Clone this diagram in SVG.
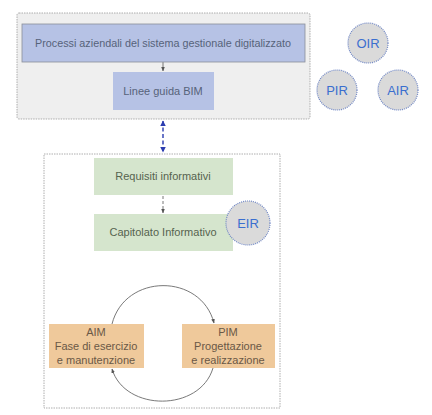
<svg xmlns="http://www.w3.org/2000/svg" width="432" height="415" viewBox="0 0 432 415">
<style>
text{font-family:"Liberation Sans","DejaVu Sans",sans-serif;font-size:11px;text-anchor:middle}
.cont{stroke:#9a9a9a;stroke-width:0.8;stroke-dasharray:1.5 1}
.blue{fill:#b6c2e5}
.green{fill:#d5e5cd}
.tan{fill:#efc99b}
.tb{fill:#56637a}
.tg{fill:#56634f}
.tt{fill:#6a5846}
.circ{fill:#dadada;stroke:#6f86c4;stroke-width:1.2;stroke-dasharray:1 1}
.ct{fill:#3b6fcf;font-size:13px}
.conn{fill:none;stroke:#6a6a6a;stroke-width:0.9}
</style>
<defs>
<marker id="ag" viewBox="0 0 10 10" refX="9" refY="5" markerWidth="5" markerHeight="5" orient="auto-start-reverse"><path d="M0,1 L10,5 L0,9 z" fill="#555"/></marker>
<marker id="ab" viewBox="0 0 10 10" refX="9" refY="5" markerWidth="4" markerHeight="4" orient="auto-start-reverse"><path d="M0,0 L10,5 L0,10 z" fill="#2b3cb0"/></marker>
</defs>
<rect width="432" height="415" fill="#fff"/>
<g id="top-container"><rect class="cont" x="17" y="13" width="293" height="106" rx="2" fill="#efefef"/></g>
<g id="bottom-container"><rect class="cont" x="44" y="154" width="236" height="254" fill="#fff"/></g>
<g id="connectors">
<line class="conn" x1="163" y1="62" x2="163" y2="71" marker-end="url(#ag)"/>
<line x1="163" y1="121" x2="163" y2="152" stroke="#2b3cb0" stroke-width="1.4" stroke-dasharray="4 2.5" marker-start="url(#ab)" marker-end="url(#ab)"/>
<line class="conn" x1="163" y1="196" x2="163" y2="213" stroke-dasharray="3 2" marker-end="url(#ag)"/>
<path class="conn" d="M112,324 C125,273 201,273 214,323" marker-end="url(#ag)"/>
<path class="conn" d="M213,368 C200,412 125,412 112,369" marker-end="url(#ag)"/>
</g>
<g id="processi"><rect class="blue" x="22" y="24" width="283" height="38" stroke="#8a8f9a" stroke-width="0.8"/><text class="tb" x="163" y="47" textLength="256" lengthAdjust="spacingAndGlyphs">Processi aziendali del sistema gestionale digitalizzato</text></g>
<g id="linee"><rect class="blue" x="113" y="72" width="101" height="38"/><text class="tb" x="163" y="95">Linee guida BIM</text></g>
<g id="requisiti"><rect class="green" x="94" y="158" width="139" height="37"/><text class="tg" x="163" y="180">Requisiti informativi</text></g>
<g id="capitolato"><rect class="green" x="94" y="214" width="139" height="37"/><text class="tg" x="163" y="236">Capitolato Informativo</text></g>
<g id="eir"><circle class="circ" cx="248" cy="223" r="22"/><text class="ct" x="248" y="228">EIR</text></g>
<g id="oir"><circle class="circ" cx="368" cy="43" r="20"/><text class="ct" x="368" y="48">OIR</text></g>
<g id="pir"><circle class="circ" cx="337" cy="90" r="20"/><text class="ct" x="337" y="95">PIR</text></g>
<g id="air"><circle class="circ" cx="398" cy="90" r="20"/><text class="ct" x="398" y="95">AIR</text></g>
<g id="aim"><rect class="tan" x="49" y="324" width="95" height="44"/><text class="tt" x="96" y="336">AIM</text><text class="tt" x="96" y="350">Fase di esercizio</text><text class="tt" x="96" y="364">e manutenzione</text></g>
<g id="pim"><rect class="tan" x="182" y="324" width="93" height="44"/><text class="tt" x="228" y="336">PIM</text><text class="tt" x="228" y="350">Progettazione</text><text class="tt" x="228" y="364">e realizzazione</text></g>
</svg>
